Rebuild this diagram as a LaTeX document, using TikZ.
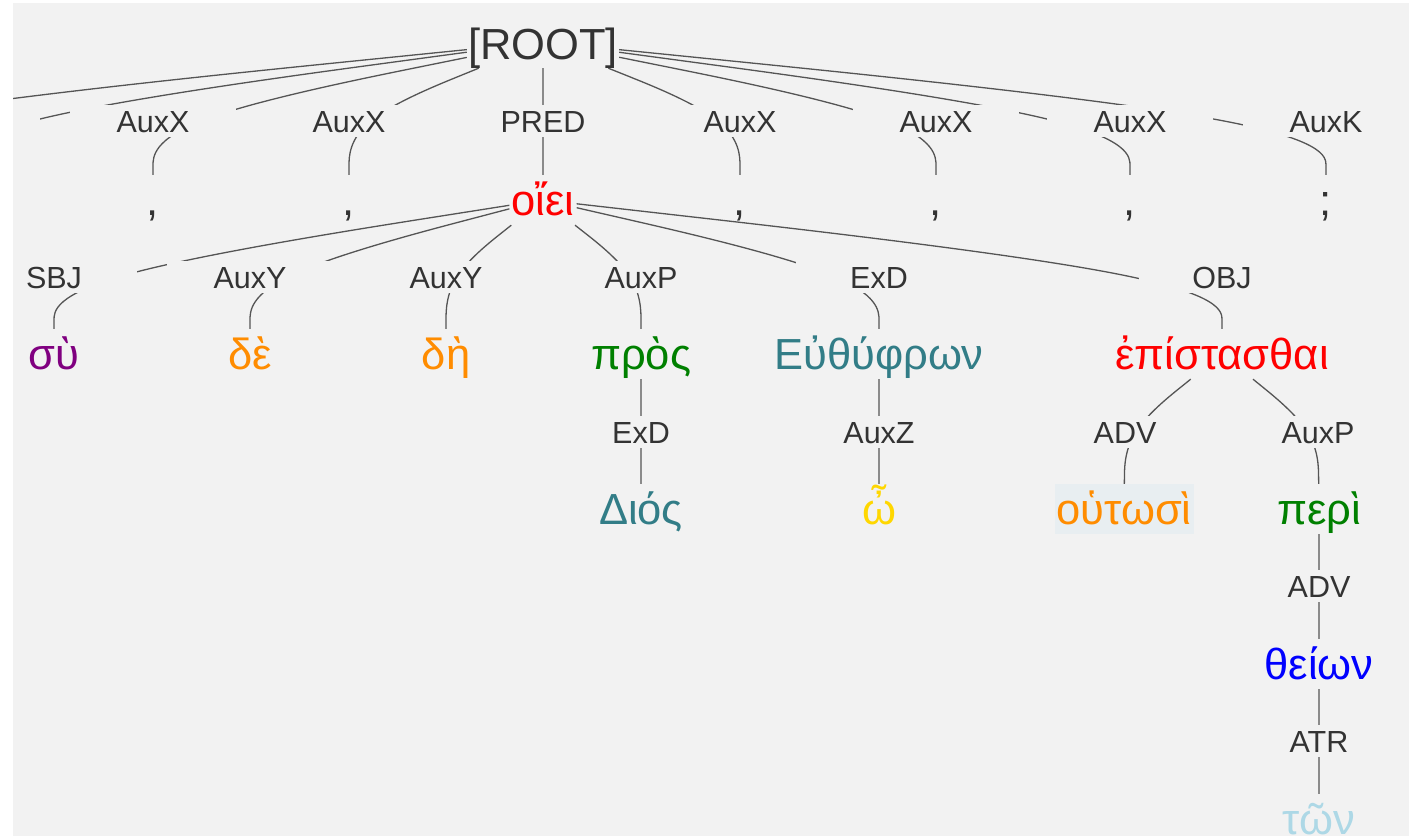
\documentclass[tikz,border=0pt]{standalone}
\usepackage{fontspec}
\setmainfont{Liberation Sans}
\usetikzlibrary{calc}
\pgfdeclarelayer{bgl}
\pgfdeclarelayer{edges}
\pgfsetlayers{bgl,edges,main}
\definecolor{bgc}{HTML}{F2F2F2}
\definecolor{linec}{HTML}{555555}
\definecolor{labc}{HTML}{333333}
\definecolor{cpurple}{HTML}{800080}
\definecolor{corange}{HTML}{FF8C00}
\definecolor{cgreen}{HTML}{008000}
\definecolor{cteal}{HTML}{327D87}
\definecolor{cred}{HTML}{FF0000}
\definecolor{cgold}{HTML}{FFD700}
\definecolor{cblue}{HTML}{0000FF}
\definecolor{clblue}{HTML}{ADD8E6}
\definecolor{chigh}{HTML}{E8EEF1}
\tikzset{
  conn/.style={draw=linec, line width=1.3pt},
  lab/.style={fill=bgc, minimum width=166pt, minimum height=32pt, inner sep=0pt,
    text height=22pt, text depth=0pt, text=labc, font=\fontsize{30.5}{30.5}\selectfont},
  tok/.style={inner xsep=2pt, inner ysep=0pt, minimum height=50pt,
    text height=38pt, text depth=8pt, font=\fontsize{43.5}{43.5}\selectfont},
  punct/.style={text=labc},
  rootn/.style={minimum width=152pt, minimum height=52pt, inner sep=0pt,
    text height=34pt, text depth=0pt, text=labc, font=\fontsize{43.5}{43.5}\selectfont}
}
\newcommand\dedge[3]{%
  \path (#1) -- coordinate[pos=0] (ea) (#2);
  \path (#2) -- coordinate[pos=1] (ec) (#3);
  \draw[conn] (ea) -- ($(ea)!1/6!(#2)$)
    .. controls ($(ea)!1/3!(#2)$) and ($(ea)!2/3!(#2)$) .. ($0.1666667*(ea)+0.6666667*(#2)+0.1666667*(ec)$)
    .. controls ($(#2)!1/3!(ec)$) and ($(#2)!2/3!(ec)$) .. ($(#2)!5/6!(ec)$) -- (ec);
}
\begin{document}
\begin{tikzpicture}[x=1pt,y=-1pt]
\useasboundingbox (0,0) rectangle (1412,836);
\begin{pgfonlayer}{bgl}
  \fill[white] (0,0) rectangle (1412,836);
  \fill[bgc] (13,3) rectangle (1409,836);
\end{pgfonlayer}
\begin{scope}
\clip (13,3) rectangle (1409,836);
% root
\node[rootn] (root) at (543,42) {[ROOT]};
% level 1 labels
\node[lab] (lx1) at (153,121) {AuxX};
\node[lab] (lx2) at (349,121) {AuxX};
\node[lab] (lpred) at (543,121) {PRED};
\node[lab] (lx3) at (740,121) {AuxX};
\node[lab] (lx4) at (936,121) {AuxX};
\node[lab] (lx5) at (1130,121) {AuxX};
\node[lab] (lk) at (1326,121) {AuxK};
\coordinate (offA) at (-43,121);
\coordinate (offAt) at (-43,175);
\coordinate (offB) at (-239,121);
\coordinate (offBt) at (-239,175);
\fill[bgc] ($(offA)+(-83,-16)$) rectangle ($(offA)+(83,16)$);
% level 1 tokens
\node[tok,punct] (c1) at (153,200) {,};
\node[tok,punct] (c2) at (349,200) {,};
\node[tok,text=cred] (oiei) at (543,200) {οἴει};
\node[tok,punct] (c3) at (740,200) {,};
\node[tok,punct] (c4) at (936,200) {,};
\node[tok,punct] (c5) at (1130,200) {,};
\node[tok,punct] (semi) at (1326,200) {;};
% level 2 labels
\node[lab] (lsbj) at (54,277) {SBJ};
\node[lab] (ly1) at (250,277) {AuxY};
\node[lab] (ly2) at (446,277) {AuxY};
\node[lab] (lp1) at (641,277) {AuxP};
\node[lab] (le1) at (879,277) {ExD};
\node[lab] (lobj) at (1222,277) {OBJ};
% level 2 tokens
\node[tok,text=cpurple] (su) at (54,354) {σὺ};
\node[tok,text=corange] (de) at (250,354) {δὲ};
\node[tok,text=corange] (dh) at (446,354) {δὴ};
\node[tok,text=cgreen] (pros) at (641,354) {πρὸς};
\node[tok,text=cteal] (euth) at (879,354) {Εὐθύφρων};
\node[tok,text=cred] (epist) at (1222,354) {ἐπίστασθαι};
% level 3 labels
\node[lab] (le2) at (641,432) {ExD};
\node[lab] (lz) at (879,432) {AuxZ};
\node[lab] (ladv1) at (1125,432) {ADV};
\node[lab] (lp2) at (1318,432) {AuxP};
% level 3 tokens
\node[tok,text=cteal] (dios) at (641,509) {Διός};
\node[tok,text=cgold] (w) at (879,509) {ὦ};
\node[tok,text=corange,fill=chigh] (hout) at (1124,509) {οὑτωσὶ};
\node[tok,text=cgreen] (peri) at (1319,509) {περὶ};
% deeper
\node[lab] (ladv2) at (1319,586) {ADV};
\node[tok,text=cblue] (theion) at (1319,664) {θείων};
\node[lab] (latr) at (1319,741) {ATR};
\node[tok,text=clblue] (ton) at (1319,819) {τῶν};
\end{scope}
\begin{pgfonlayer}{edges}
\clip (13,3) rectangle (1409,836);
\dedge{root}{offB}{offBt}
\dedge{root}{offA}{offAt}
\dedge{root}{lx1}{c1}
\dedge{root}{lx2}{c2}
\dedge{root}{lpred}{oiei}
\dedge{root}{lx3}{c3}
\dedge{root}{lx4}{c4}
\dedge{root}{lx5}{c5}
\dedge{root}{lk}{semi}
\dedge{oiei}{lsbj}{su}
\dedge{oiei}{ly1}{de}
\dedge{oiei}{ly2}{dh}
\dedge{oiei}{lp1}{pros}
\dedge{oiei}{le1}{euth}
\dedge{oiei}{lobj}{epist}
\dedge{pros}{le2}{dios}
\dedge{euth}{lz}{w}
\dedge{epist}{ladv1}{hout}
\dedge{epist}{lp2}{peri}
\dedge{peri}{ladv2}{theion}
\dedge{theion}{latr}{ton}
\end{pgfonlayer}
\end{tikzpicture}
\end{document}
